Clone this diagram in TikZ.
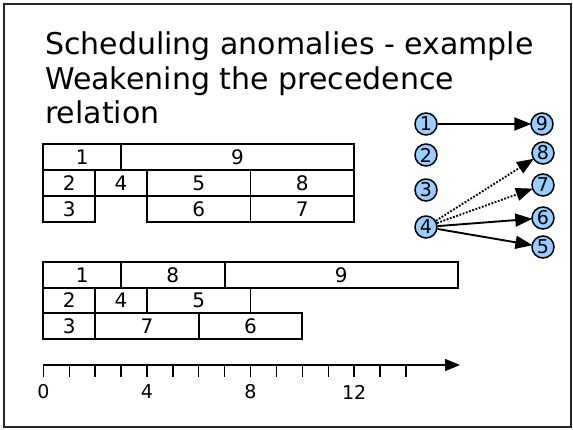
\documentclass[tikz,border=0pt]{standalone}
\usepackage{fontspec}
\setmainfont{DejaVu Sans}
\usetikzlibrary{arrows.meta}
\definecolor{nodeblue}{HTML}{99CCFF}
\newcommand{\gx}[1]{43.3+25.9*(#1)}
\newcommand{\gtask}[6]{% name start end top bottom label
  \draw[gbox] ({\gx{#2}},#4) rectangle ({\gx{#3}},#5);
  \node[glabel] (#1) at ({\gx{(#2+#3)/2}},{(#4+#5)/2}) {#6};}
\begin{document}
\begin{tikzpicture}[x=1pt,y=-1pt,
  gbox/.style={draw=black, line width=1.9pt},
  glabel/.style={inner sep=0pt, font=\fontsize{20}{20}\selectfont},
  title/.style={anchor=base west, inner sep=0pt, font=\fontsize{30}{30}\selectfont},
  gnode/.style={circle, draw=black, line width=1.5pt, fill=nodeblue, minimum size=22pt, inner sep=0pt, font=\fontsize{19}{19}\selectfont},
  edge/.style={line width=1.9pt, -{Triangle[length=17pt, width=13pt]}, shorten >=-1pt},
  dotedge/.style={edge, dash pattern=on 1.8pt off 1.6pt},
  axis/.style={line width=1.4pt},
  ticklab/.style={inner sep=0pt, font=\fontsize{19}{19}\selectfont}]
\useasboundingbox (0,0) rectangle (573,430);
\draw[line width=1.4pt, black!85] (4,4) rectangle (571,427);
% title
\node[title] (t1) at (45,55) {Scheduling anomalies - example};
\node[title] (t2) at (45,90) {Weakening the precedence};
\node[title] (t3) at (45,124) {relation};
% Gantt 1
\gtask{a1}{0}{3}{144}{170}{1}
\gtask{a9}{3}{12}{144}{170}{9}
\gtask{a2}{0}{2}{170}{196}{2}
\gtask{a4}{2}{4}{170}{196}{4}
\gtask{a5}{4}{8}{170}{196}{5}
\gtask{a8}{8}{12}{170}{196}{8}
\gtask{a3}{0}{2}{196}{222}{3}
\gtask{a6}{4}{8}{196}{222}{6}
\gtask{a7}{8}{12}{196}{222}{7}
% Gantt 2
\gtask{b1}{0}{3}{262}{288}{1}
\gtask{b8}{3}{7}{262}{288}{8}
\gtask{b9}{7}{16}{262}{288}{9}
\gtask{b2}{0}{2}{288}{313}{2}
\gtask{b4}{2}{4}{288}{313}{4}
\gtask{b5}{4}{8}{288}{313}{5}
\gtask{b3}{0}{2}{313}{339}{3}
\gtask{b7}{2}{6}{313}{339}{7}
\gtask{b6}{6}{10}{313}{339}{6}
% axis
\coordinate (ax0) at (43.3,365);
\coordinate (ax1) at (460,365);
\draw[axis, -{Triangle[length=15pt, width=12pt]}] (ax0) -- (ax1);
\foreach \i in {0,...,14} {
  \draw[axis] ({\gx{\i}},365) -- ({\gx{\i}},377);
}
\foreach \i in {0,4,8,12} {
  \node[ticklab] (l\i) at ({\gx{\i}},392) {\i};
}
% precedence graph
\node[gnode] (n1) at (426,124) {1};
\node[gnode] (n2) at (426,155) {2};
\node[gnode] (n3) at (426,190) {3};
\node[gnode] (n4) at (426,227) {4};
\node[gnode] (n9) at (542,124) {9};
\node[gnode] (n8) at (543,153) {8};
\node[gnode] (n7) at (543,185) {7};
\node[gnode] (n6) at (543,218) {6};
\node[gnode] (n5) at (543,247) {5};
\draw[edge] (n1) -- (n9);
\draw[dotedge] (n4) -- (n8);
\draw[dotedge] (n4) -- (n7);
\draw[edge] (n4) -- (n6);
\draw[edge] (n4) -- (n5);
\end{tikzpicture}
\end{document}
